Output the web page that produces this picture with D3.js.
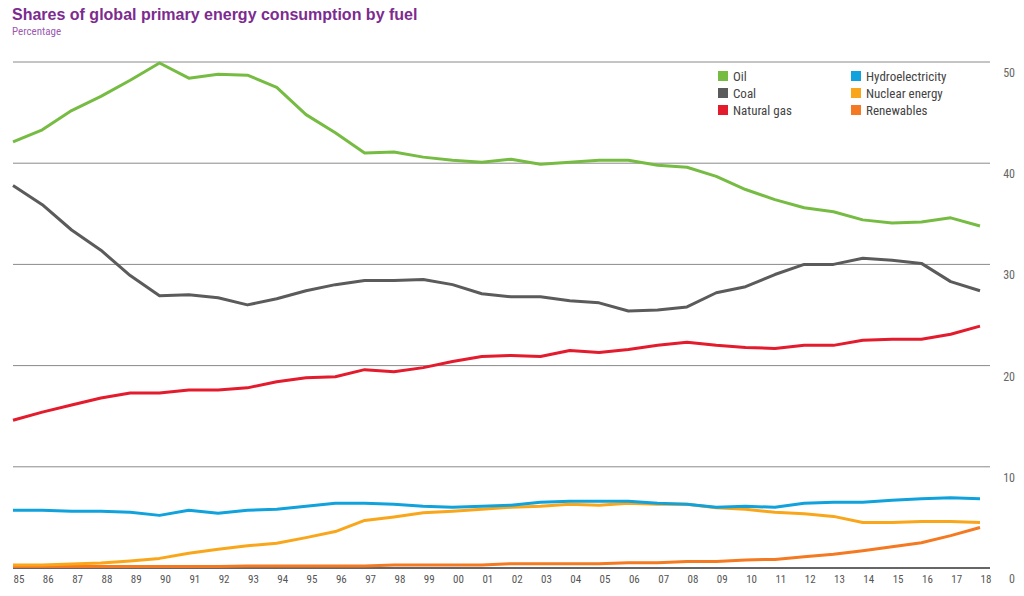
<!DOCTYPE html>
<html><head><meta charset="utf-8">
<script src="https://cdn.jsdelivr.net/npm/d3@7"></script>
<style>
body{margin:0;background:#fff;font-family:"Liberation Sans Narrow","Roboto Condensed","Liberation Sans",Arial,sans-serif;}
</style></head>
<body><svg id="chart" width="1024" height="596"></svg>
<script>
const years = d3.range(1985, 2019);
const yearLabels = years.map(y => String(y % 100).padStart(2, "0"));
const oil = [42.1,43.3,45.2,46.6,48.2,49.9,48.4,48.8,48.7,47.5,44.8,43.0,41.0,41.1,40.6,40.3,40.1,40.4,39.9,40.1,40.3,40.3,39.8,39.6,38.7,37.4,36.4,35.6,35.2,34.4,34.1,34.2,34.6,33.8];
const coal = [37.8,35.9,33.4,31.4,28.9,26.9,27.0,26.7,26.0,26.6,27.4,28.0,28.4,28.4,28.5,28.0,27.1,26.8,26.8,26.4,26.2,25.4,25.5,25.8,27.2,27.8,29.0,30.0,30.0,30.6,30.4,30.1,28.3,27.4];
const gas = [14.6,15.4,16.1,16.8,17.3,17.3,17.6,17.6,17.8,18.4,18.8,18.9,19.6,19.4,19.8,20.4,20.9,21.0,20.9,21.5,21.3,21.6,22.0,22.3,22.0,21.8,21.7,22.0,22.0,22.5,22.6,22.6,23.1,23.9];
const hydro = [5.7,5.7,5.6,5.6,5.5,5.2,5.7,5.4,5.7,5.8,6.1,6.4,6.4,6.3,6.1,6.0,6.1,6.2,6.5,6.6,6.6,6.6,6.4,6.3,6.0,6.1,6.0,6.4,6.5,6.5,6.7,6.85,6.95,6.85];
const nuclear = [0.3,0.3,0.4,0.5,0.7,0.95,1.45,1.85,2.2,2.45,3.0,3.6,4.7,5.05,5.45,5.6,5.8,6.0,6.1,6.3,6.2,6.4,6.3,6.3,5.95,5.8,5.5,5.35,5.1,4.5,4.5,4.6,4.6,4.5];
const renewables = [0.15,0.15,0.15,0.15,0.15,0.15,0.15,0.15,0.2,0.2,0.2,0.2,0.2,0.3,0.3,0.3,0.3,0.43,0.43,0.43,0.43,0.53,0.53,0.63,0.65,0.8,0.85,1.1,1.35,1.7,2.1,2.5,3.2,4.0];
const yTicks = [0,10,20,30,40,50];

const series = [
  {name:"Oil", values:oil, color:"#76bc43"},
  {name:"Coal", values:coal, color:"#5b5b5b"},
  {name:"Natural gas", values:gas, color:"#e31b2d"},
  {name:"Hydroelectricity", values:hydro, color:"#10a2dc"},
  {name:"Nuclear energy", values:nuclear, color:"#f9a61a"},
  {name:"Renewables", values:renewables, color:"#f47920"}
];

const svg = d3.select("#chart");
const x = d3.scaleLinear().domain([1985, 2018]).range([13, 980]);
const y = d3.scaleLinear().domain([0, 50]).range([568, 62]);

svg.append("text").attr("x", 12).attr("y", 20)
  .attr("fill", "#7c2b8f").attr("font-size", 16).attr("font-weight", "bold")
  .attr("font-family", "Liberation Sans, Arial, sans-serif")
  .text("Shares of global primary energy consumption by fuel");
svg.append("text").attr("x", 12).attr("y", 35)
  .attr("fill", "#9b59b0").attr("font-size", 11)
  .text("Percentage");

// gridlines
svg.selectAll(".grid").data(yTicks).enter().append("line")
  .attr("x1", 13).attr("x2", 990)
  .attr("y1", d => y(d)).attr("y2", d => y(d))
  .attr("stroke", d => d === 0 ? "#333" : "#8a8a8a")
  .attr("stroke-width", d => d === 0 ? 1.6 : 1);

svg.selectAll(".ylab").data(yTicks).enter().append("text")
  .attr("x", 1015).attr("y", d => y(d) + 15)
  .attr("text-anchor", "end").attr("fill", "#666").attr("font-size", 12)
  .text(d => d);

svg.selectAll(".xlab").data(years).enter().append("text")
  .attr("x", d => x(d) + 6).attr("y", 583)
  .attr("text-anchor", "middle").attr("fill", "#555").attr("font-size", 11)
  .text((d, i) => yearLabels[i]);

const line = d3.line().x((d, i) => x(years[i])).y(d => y(d));
svg.selectAll(".series").data(series.slice().reverse()).enter().append("path")
  .attr("d", d => line(d.values))
  .attr("fill", "none").attr("stroke", d => d.color)
  .attr("stroke-width", 3).attr("stroke-linejoin", "round");

// legend
const leg = svg.selectAll(".leg").data(series).enter().append("g")
  .attr("transform", (d, i) => `translate(${i < 3 ? 718 : 851},${71 + (i % 3) * 17})`);
leg.append("rect").attr("width", 10).attr("height", 10).attr("fill", d => d.color);
leg.append("text").attr("x", 15).attr("y", 10).attr("fill", "#444").attr("font-size", 13)
  .text(d => d.name);
</script></body></html>
